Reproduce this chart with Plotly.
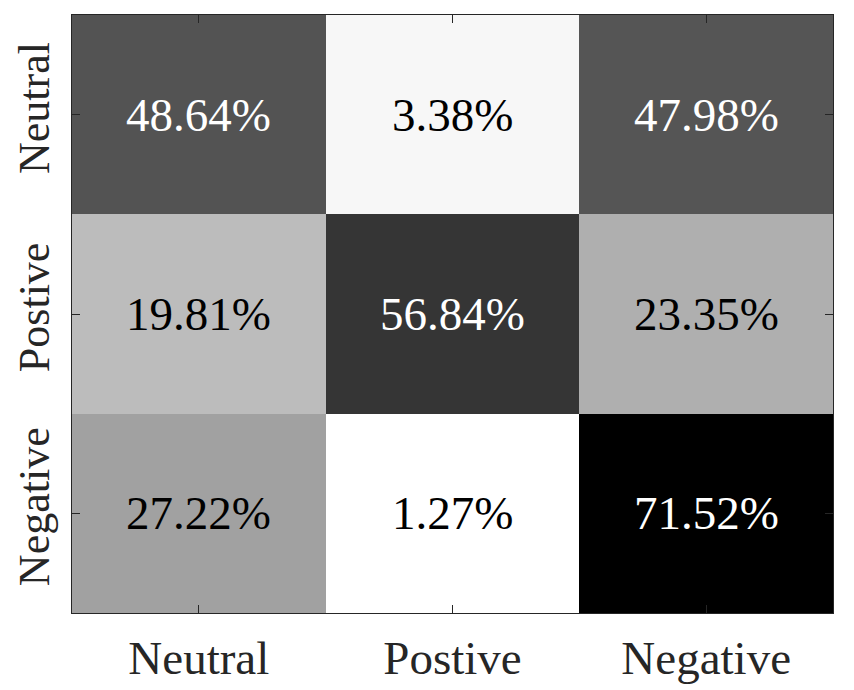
import plotly.graph_objects as go

# Confusion matrix values (%), rows = true class (top to bottom), cols = predicted
labels = ["Neutral", "Postive", "Negative"]
row_neutral = [48.64, 3.38, 47.98]
row_postive = [19.81, 56.84, 23.35]
row_negative = [27.22, 1.27, 71.52]

z = [row_neutral, row_postive, row_negative]
zmin = min(min(r) for r in z)
zmax = max(max(r) for r in z)
mid = (zmin + zmax) / 2

fig = go.Figure()
fig.add_heatmap(
    x=labels,
    y=labels,
    z=z,
    zmin=zmin,
    zmax=zmax,
    colorscale=[[0, "#ffffff"], [1, "#000000"]],
    showscale=False,
)

# cell labels, white on dark cells
for i, row in enumerate(z):
    for j, v in enumerate(row):
        fig.add_annotation(
            x=labels[j], y=labels[i], text=f"{v:.2f}%", showarrow=False,
            font=dict(family="Liberation Serif", size=47,
                      color="white" if v > mid else "black"),
        )

axis_style = dict(
    showline=True, linecolor="#262626", linewidth=1, mirror="ticks",
    ticks="inside", ticklen=8, tickcolor="#262626",
    showgrid=False, zeroline=False,
)
fig.update_xaxes(**axis_style, ticklabelstandoff=4,
                 tickfont=dict(family="Liberation Serif", size=47, color="#262626"))
fig.update_yaxes(**axis_style, autorange="reversed", tickangle=-90,
                 ticklabelstandoff=4,
                 tickfont=dict(family="Liberation Serif", size=44, color="#262626"))

# page body adds 8px offset, so shrink the figure to fit the window
fig.update_layout(
    width=846, height=682,
    margin=dict(l=64, r=21, t=7, b=77, autoexpand=False),
    paper_bgcolor="white", plot_bgcolor="white",
)

fig.write_html("out.html")
